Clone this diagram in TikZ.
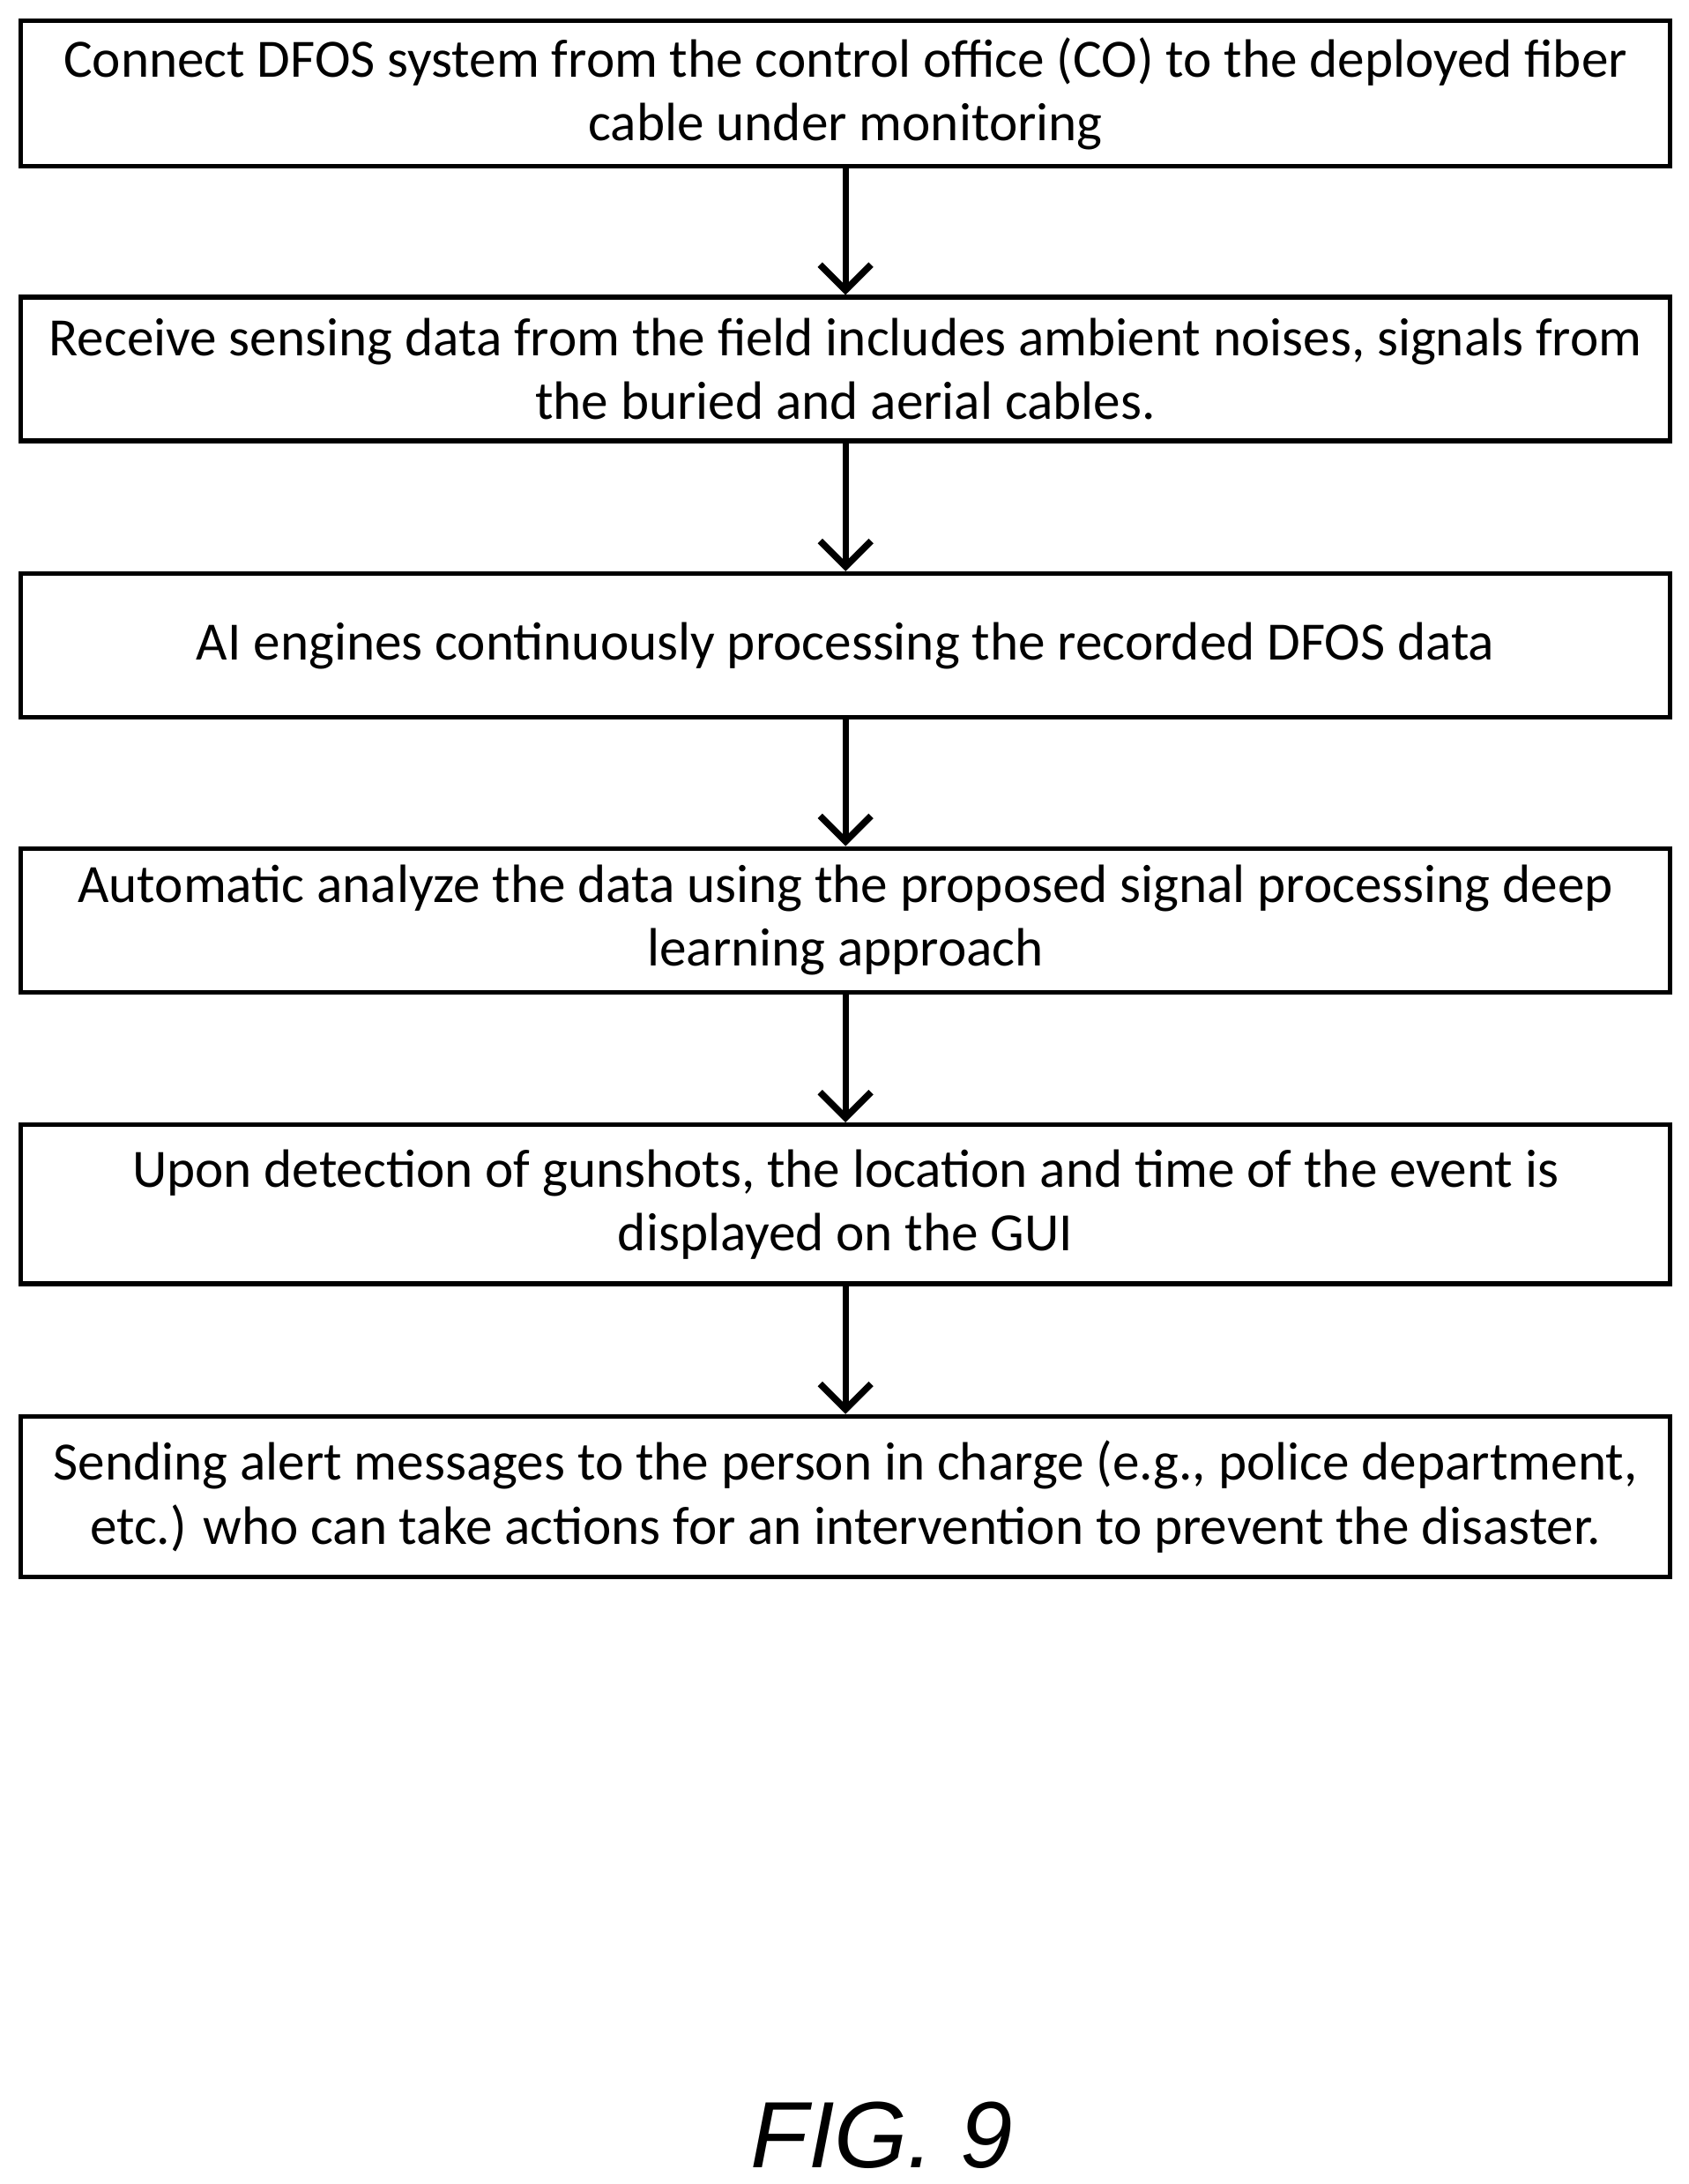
\documentclass[tikz,border=0pt]{standalone}
\usepackage{fontspec}
\setmainfont{Carlito}
\newfontfamily\figfont{Liberation Sans}
\usetikzlibrary{arrows.meta}
\begin{document}
\begin{tikzpicture}[x=0.025cm,y=-0.025cm,
  box/.style={draw,line width=2.4pt,inner sep=0pt},
  txt/.style={align=center,font=\fontsize{27.5}{32.5}\selectfont},
  arr/.style={line width=3.2pt,-{Straight Barb[length=13pt,width=26pt,line width=3.4pt]}}]
\useasboundingbox (0,0) rectangle (1210,1565);
\foreach \n/\t/\b in {b1/15/119,b2/213/316,b3/411/514,b4/608/711,b5/806/920,b6/1015/1130}{
  \node[box,minimum width=1182*0.025cm,minimum height={(\b-\t)*0.025cm}] (\n) at (606,{(\t+\b)/2}) {};
}
\node[txt] at (b1) {Connect DFOS system from the control office (CO) to the deployed fiber\\cable under monitoring};
\node[txt] at (b2) {Receive sensing data from the field includes ambient noises, signals from\\the buried and aerial cables.};
\node[txt] at (b3) {AI engines continuously processing the recorded DFOS data};
\node[txt] at (b4) {Automatic analyze the data using the proposed signal processing deep\\learning approach};
\node[txt] at (b5) {Upon detection of gunshots, the location and time of the event is\\displayed on the GUI};
\node[txt] at (b6) {Sending alert messages to the person in charge (e.g., police department,\\etc.) who can take actions for an intervention to prevent the disaster.};
\foreach \a/\b in {b1/b2,b2/b3,b3/b4,b4/b5,b5/b6}
  \draw[arr] (\a.south) -- (\b.north);
\node[font=\figfont\itshape\fontsize{48}{50}\selectfont] (fig) at (632,1530) {FIG. 9};
\end{tikzpicture}
\end{document}
